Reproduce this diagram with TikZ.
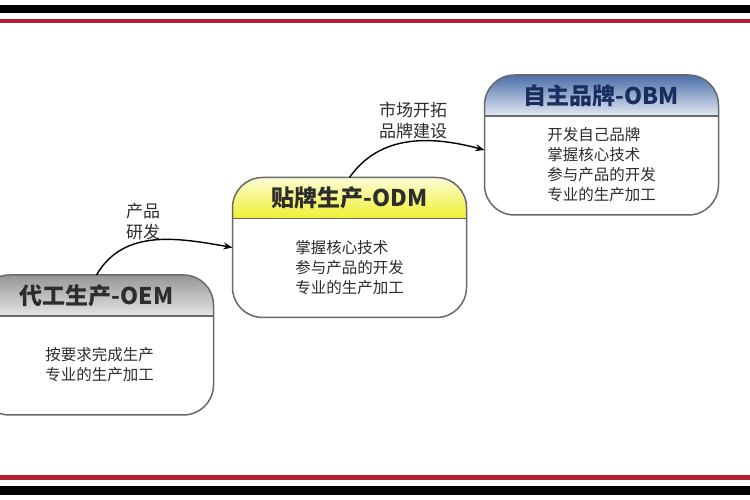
\documentclass[tikz,border=0pt]{standalone}
\usepackage{fontspec}
\setmainfont{Noto Sans CJK SC}
\usetikzlibrary{arrows.meta}

\definecolor{framered}{RGB}{176,32,48}
\definecolor{boxline}{RGB}{105,105,105}
\definecolor{txtgray}{RGB}{45,45,45}
\definecolor{oemgray}{RGB}{150,150,150}
\definecolor{odmyellow}{RGB}{240,240,50}
\definecolor{obmblue}{RGB}{75,110,170}
\definecolor{obmtitle}{RGB}{25,45,95}

\tikzset{
  stage/.style={rectangle, minimum width=234pt, minimum height=140pt, inner sep=0pt, outer sep=0pt},
  head/.style={font=\fontsize{23}{26}\selectfont\bfseries, text=txtgray},
  body/.style={font=\fontsize{15.5}{20}\selectfont, text=txtgray, align=left},
  lbl/.style={font=\fontsize{17}{21}\selectfont, text=txtgray, align=center},
  flow/.style={-{Stealth[length=9pt,width=7pt]}, line width=1.4pt}
}

\begin{document}
\begin{tikzpicture}[x=1pt,y=1pt]
   \clip (0,0) rectangle (750,500);
   \fill[white] (0,0) rectangle (750,500);

   % frame lines
   \draw[line width=8pt] (0,491) -- (750,491);
   \draw[framered, line width=4.5pt] (0,479) -- (750,479);
   \draw[framered, line width=4.5pt] (0,22.5) -- (750,22.5);
   \draw[line width=9pt] (0,9.5) -- (750,9.5);

   \node[stage] (oem) at (96.5,155) {};
   \node[stage] (odm) at (349.5,252.5) {};
   \node[stage] (obm) at (601.5,355) {};

   \foreach \s/\t/\b in {oem/oemgray/gray!20, odm/odmyellow!20/odmyellow, obm/obmblue/obmblue!15}{
     \begin{scope}
       \clip[rounded corners=30pt] (\s.south west) rectangle (\s.north east);
       \shade[top color=\t, bottom color=\b] (\s.north west) rectangle ([yshift=-41pt]\s.north east);
     \end{scope}
     \draw[boxline, line width=1.5pt] ([yshift=-41pt]\s.north west) -- ([yshift=-41pt]\s.north east);
     \draw[boxline, line width=1.5pt, rounded corners=30pt] (\s.south west) rectangle (\s.north east);
   }

   \node[head] (oemtitle) at ([yshift=-20.5pt]oem.north) {代工生产-OEM};
   \node[head] (odmtitle) at ([yshift=-20.5pt]odm.north) {贴牌生产-ODM};
   \node[head, text=obmtitle] (obmtitle) at ([yshift=-20.5pt]obm.north) {自主品牌-OBM};

   \node[body] (oembody) at ([xshift=3pt,yshift=-20pt]oem.center) {按要求完成生产\\专业的生产加工};
   \node[body] (odmbody) at ([yshift=-20pt]odm.center) {掌握核心技术\\参与产品的开发\\专业的生产加工};
   \node[body] (obmbody) at ([yshift=-20pt]obm.center) {开发自己品牌\\掌握核心技术\\参与产品的开发\\专业的生产加工};

   \coordinate (obmin) at ([yshift=-5pt]obm.west);
   \draw[flow] (oem.north) to[out=60,in=170] (odm.west);
   \draw[flow] (odm.north) to[out=55,in=165] (obmin);

   \node[lbl] (rnd) at (143,278) {产品\\研发};
   \node[lbl] (mkt) at (413,379) {市场开拓\\品牌建设};
\end{tikzpicture}
\end{document}
